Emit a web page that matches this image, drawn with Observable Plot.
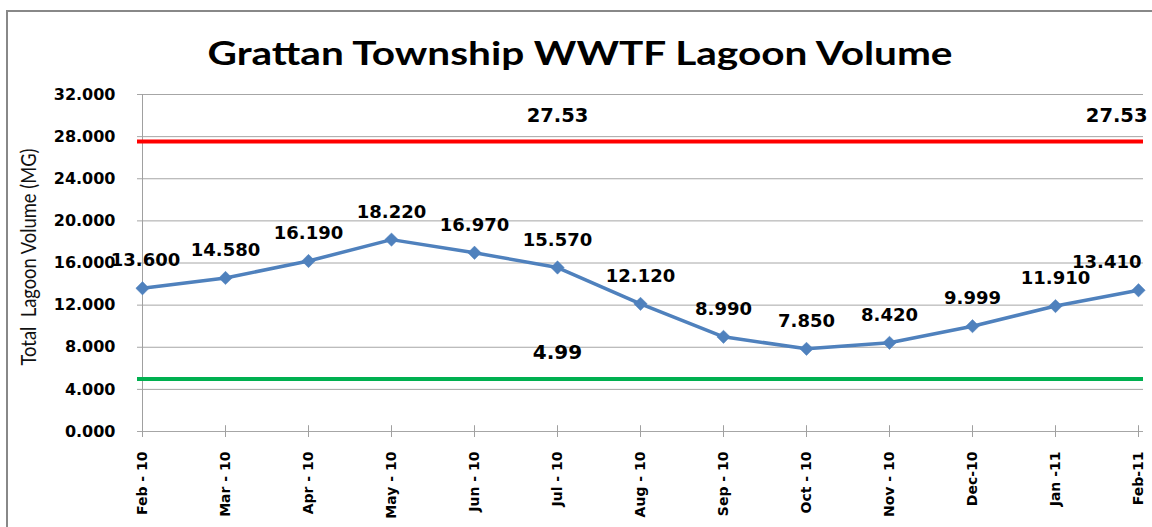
<!DOCTYPE html>
<html>
<head>
<meta charset="utf-8">
<script src="https://cdn.jsdelivr.net/npm/d3@7"></script>
<script src="https://cdn.jsdelivr.net/npm/@observablehq/plot@0.6"></script>
<style>
  html, body { margin: 0; padding: 0; background: #fff; width: 1152px; height: 527px; overflow: hidden; }
  #frame { position: absolute; left: 6px; top: 10px; width: 1200px; height: 600px;
           border-left: 2px solid #888; border-top: 2px solid #888; box-sizing: border-box; }
  #chart { position: absolute; left: 0; top: 0; }
</style>
</head>
<body>
<div id="frame"></div>
<div id="chart"></div>
<script>
const chartTitle = "Grattan Township WWTF Lagoon Volume";
const yTitle = "Total  Lagoon Volume (MG)";
const months = ["Feb - 10", "Mar - 10", "Apr - 10", "May - 10", "Jun - 10", "Jul - 10",
                "Aug - 10", "Sep - 10", "Oct - 10", "Nov - 10", "Dec-10", "Jan -11", "Feb-11"];
const volumes = [13.600, 14.580, 16.190, 18.220, 16.970, 15.570, 12.120, 8.990, 7.850, 8.420, 9.999, 11.910, 13.410];
const yTicks = [0, 4, 8, 12, 16, 20, 24, 28, 32];
const upperLimit = 27.53;
const lowerLimit = 4.99;
const upperLabelMonths = ["Jul - 10", "Feb-11"];
const lowerLabelMonths = ["Jul - 10"];

const data = months.map((m, i) => ({month: m, value: volumes[i], i}));
const last = months.length - 1;
const fmt = d3.format(".3f");
const numFont = "DejaVu Sans";

const chart = Plot.plot({
  width: 1152,
  height: 527,
  marginLeft: 137,
  marginRight: 9,
  marginTop: 94,
  marginBottom: 96,
  style: {background: "transparent", fontFamily: numFont},
  x: {type: "point", domain: months, padding: 0},
  y: {domain: [0, 32]},
  marks: [
    Plot.ruleY(yTicks, {stroke: "#a6a6a6", strokeWidth: 1}),
    Plot.ruleX([months[0]], {y1: 0, y2: 32, stroke: "#a0a0a0", strokeWidth: 1}),
    Plot.ruleX(months, {y1: 0, y2: 0.55, stroke: "#a0a0a0", strokeWidth: 1}),
    Plot.axisY({ticks: yTicks, tickFormat: fmt, tickSize: 0, tickPadding: 22, label: null,
                fontSize: 16, fontWeight: "bold", fill: "#000"}),
    Plot.axisX({tickSize: 6, tickPadding: 14, tickRotate: -90, label: null, stroke: "#a0a0a0",
                fontSize: 14, fontWeight: "bold", fill: "#000"}),
    Plot.ruleY([upperLimit], {stroke: "#ff0000", strokeWidth: 4}),
    Plot.ruleY([lowerLimit], {stroke: "#00b050", strokeWidth: 4}),
    Plot.text(upperLabelMonths.filter(m => m !== months[last]), {x: d => d, y: upperLimit, text: () => String(upperLimit),
      dy: -20, lineAnchor: "bottom", fontSize: 19.5, fontWeight: "bold", fill: "#000"}),
    Plot.text(upperLabelMonths.filter(m => m === months[last]), {x: d => d, y: upperLimit, text: () => String(upperLimit),
      dy: -20, dx: 9, textAnchor: "end", lineAnchor: "bottom", fontSize: 19.5, fontWeight: "bold", fill: "#000"}),
    Plot.text(lowerLabelMonths, {x: d => d, y: lowerLimit, text: () => String(lowerLimit),
      dy: -20, lineAnchor: "bottom", fontSize: 20, fontWeight: "bold", fill: "#000"}),
    Plot.line(data, {x: "month", y: "value", stroke: "#4f81bd", strokeWidth: 3.5}),
    Plot.dot(data, {x: "month", y: "value", symbol: "diamond2", r: 6, fill: "#4f81bd", stroke: "#4f81bd", strokeWidth: 0.5}),
    Plot.text(data.filter(d => d.i > 0 && d.i < last), {x: "month", y: "value", text: d => fmt(d.value),
      dy: -22, lineAnchor: "bottom", fontSize: 18, fontWeight: "bold", fill: "#000"}),
    Plot.text(data.filter(d => d.i === 0), {x: "month", y: "value", text: d => fmt(d.value),
      dy: -22, dx: 3, lineAnchor: "bottom", fontSize: 18, fontWeight: "bold", fill: "#000"}),
    Plot.text(data.filter(d => d.i === last), {x: "month", y: "value", text: d => fmt(d.value),
      dy: -22, dx: 3, textAnchor: "end", lineAnchor: "bottom", fontSize: 18, fontWeight: "bold", fill: "#000"}),
    Plot.text([chartTitle], {frameAnchor: "top", dx: -60.5, dy: -30, lineAnchor: "bottom", textAnchor: "middle",
      fontSize: 32, fontWeight: "bold", fontFamily: "Lato", fill: "#000"}),
    Plot.text([yTitle], {frameAnchor: "left", rotate: -90, dx: -102, dy: -6, lineAnchor: "bottom", textAnchor: "middle",
      fontSize: 22, fontFamily: "Lato", fill: "#111"})
  ]
});
// stretch the title and axis title to the reference's measured lengths
d3.select(chart).selectAll("text").each(function() {
  const t = this.textContent;
  if (t === chartTitle) { this.setAttribute("textLength", 745); this.setAttribute("lengthAdjust", "spacingAndGlyphs"); }
  if (t === yTitle) { this.setAttribute("textLength", 217); this.setAttribute("lengthAdjust", "spacingAndGlyphs"); }
});
document.getElementById("chart").appendChild(chart);
</script>
</body>
</html>
